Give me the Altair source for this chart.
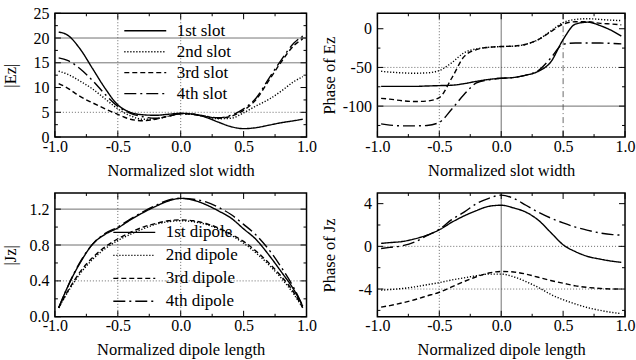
import altair as alt
import pandas as pd

FONT = "Liberation Serif"

# ---------------- data ----------------
X = [-0.97, -0.9, -0.8, -0.7, -0.6, -0.5, -0.4, -0.3, -0.2, -0.1, 0.0,
     0.1, 0.2, 0.3, 0.4, 0.5, 0.6, 0.7, 0.8, 0.9, 0.97]

SLOTS = ["1st slot", "2nd slot", "3rd slot", "4th slot"]
DIPOLES = ["1st dipole", "2nd dipole", "3rd dipole", "4th dipole"]

# |Ez| vs normalized slot width
EZ_MAG_1 = [21.2, 20.6, 17.8, 13.8, 9.8, 6.5, 5.0, 4.5, 4.4, 4.6, 4.8, 4.6, 4.0, 3.0, 2.1, 1.7, 1.9, 2.4, 2.9, 3.3, 3.6]
EZ_MAG_2 = [13.3, 12.7, 11.3, 9.7, 7.7, 5.7, 4.3, 3.6, 3.7, 4.2, 4.7, 4.6, 4.1, 3.7, 3.8, 4.9, 6.3, 7.6, 9.3, 11.2, 12.2]
EZ_MAG_3 = [10.8, 9.9, 8.2, 6.9, 5.7, 4.6, 3.6, 3.3, 3.6, 4.2, 4.7, 4.6, 4.2, 3.8, 4.2, 5.4, 7.6, 11.4, 15.2, 18.5, 19.8]
EZ_MAG_4 = [16.0, 15.5, 13.8, 11.4, 8.6, 6.2, 4.8, 4.1, 3.8, 4.2, 4.7, 4.6, 4.2, 3.9, 4.4, 5.7, 7.9, 11.8, 15.6, 19.0, 20.4]

# Phase of Ez vs normalized slot width
EZ_PH_1 = [-74.5, -74.5, -74.5, -74.5, -74.0, -73.5, -73.0, -71.0, -68.0, -65.5, -64.0, -63.0, -60.0, -55.0, -43.0, -14.0, 6.0, 8.5, 4.0, -3.0, -9.5]
EZ_PH_2 = [-55.0, -56.0, -57.0, -57.5, -57.0, -54.0, -44.0, -31.0, -26.0, -24.0, -23.0, -22.5, -20.0, -14.0, -3.0, 8.0, 12.0, 13.0, 12.0, 11.0, 10.5]
EZ_PH_3 = [-90.0, -91.0, -93.0, -94.0, -93.5, -89.0, -64.0, -36.0, -27.0, -24.0, -23.0, -22.5, -20.0, -14.0, -4.0, 6.0, 9.0, 9.0, 7.0, 6.0, 5.0]
EZ_PH_4 = [-123.0, -124.5, -125.5, -125.5, -125.0, -121.0, -104.0, -85.0, -70.0, -66.0, -64.0, -63.0, -60.0, -54.0, -38.0, -20.0, -18.5, -18.5, -18.5, -19.0, -19.5]

# |Jz| vs normalized dipole length
JZ_MAG_1 = [0.10, 0.33, 0.60, 0.81, 0.92, 0.99, 1.08, 1.16, 1.23, 1.29, 1.32, 1.30, 1.25, 1.18, 1.10, 0.98, 0.86, 0.69, 0.50, 0.30, 0.12]
JZ_MAG_2 = [0.10, 0.27, 0.48, 0.64, 0.76, 0.85, 0.92, 0.98, 1.03, 1.06, 1.07, 1.06, 1.03, 0.98, 0.91, 0.82, 0.71, 0.58, 0.43, 0.25, 0.10]
JZ_MAG_3 = [0.10, 0.28, 0.50, 0.66, 0.78, 0.87, 0.94, 1.00, 1.04, 1.07, 1.08, 1.07, 1.04, 0.99, 0.92, 0.84, 0.73, 0.60, 0.45, 0.27, 0.10]
JZ_MAG_4 = [0.10, 0.33, 0.61, 0.81, 0.93, 1.00, 1.09, 1.17, 1.24, 1.30, 1.32, 1.31, 1.28, 1.22, 1.14, 1.03, 0.91, 0.75, 0.55, 0.32, 0.12]

# Phase of Jz vs normalized dipole length
JZ_PH_1 = [0.28, 0.35, 0.45, 0.7, 1.05, 1.55, 2.25, 2.85, 3.35, 3.75, 3.85, 3.6, 3.2, 2.45, 1.3, 0.15, -0.5, -0.95, -1.2, -1.4, -1.5]
JZ_PH_2 = [-4.1, -4.05, -3.95, -3.8, -3.6, -3.4, -3.15, -2.95, -2.75, -2.6, -2.6, -2.85, -3.3, -3.85, -4.5, -5.0, -5.4, -5.75, -6.0, -6.2, -6.3]
JZ_PH_3 = [-5.7, -5.55, -5.3, -5.0, -4.65, -4.3, -3.8, -3.3, -2.85, -2.5, -2.35, -2.4, -2.6, -2.9, -3.2, -3.45, -3.7, -3.85, -3.95, -4.0, -4.0]
JZ_PH_4 = [-0.2, -0.1, 0.05, 0.4, 1.0, 1.6, 2.5, 3.2, 4.0, 4.5, 4.8, 4.5, 3.85, 3.2, 2.65, 2.2, 1.8, 1.5, 1.25, 1.1, 1.05]

X_MAJOR = [-1.0, -0.5, 0.0, 0.5, 1.0]
X_MINOR = [-0.75, -0.25, 0.25, 0.75]

DASHES = [[1, 0], [1.2, 1.8], [5, 3], [12, 4, 2, 4]]

W = 252
H = 124


def label_expr(fmt):
    return ("datum.value < 0 ? '-' + format(-datum.value, '%s') : format(datum.value, '%s')"
            % (fmt, fmt))


def panel(names, series, ydom, ymaj, ymin, ytitle, xtitle, yfmt, yext, ytpad,
          hsolid=(), hdot=(), vsolid=(), vdot=(), vdashdot=(), legend_xy=None,
          width=W, height=H):
    rows = []
    for name, vals in zip(names, series):
        for xv, yv in zip(X, vals):
            rows.append({"x": xv, "y": yv, "s": name})
    df = pd.DataFrame(rows)

    common = dict(ticks=False, domain=False, grid=False, labelFlush=False, labelOverlap=False,
                  labelFont=FONT, titleFont=FONT, labelColor="black", titleColor="black",
                  titleFontWeight="normal", labelFontSize=16, titleFontSize=16.5)
    xaxis = alt.Axis(values=X_MAJOR, labelExpr=label_expr(".1f"), labelPadding=1,
                     titlePadding=5, minExtent=20, maxExtent=20, **common)
    yaxis = alt.Axis(values=ymaj, labelExpr=label_expr(yfmt), labelPadding=6,
                     titlePadding=ytpad, minExtent=yext, maxExtent=yext, **common)
    xenc = alt.X("x:Q", scale=alt.Scale(domain=[-1, 1], nice=False, zero=False),
                 axis=xaxis, title=xtitle)
    yenc = alt.Y("y:Q", scale=alt.Scale(domain=ydom, nice=False, zero=False),
                 axis=yaxis, title=ytitle)

    layers = []

    def hrules(vals, dash):
        if vals:
            layers.append(alt.Chart(pd.DataFrame({"y": list(vals)})).mark_rule(
                color="#444", strokeWidth=0.8, strokeDash=dash).encode(y=yenc))

    def vrules(vals, dash):
        if vals:
            layers.append(alt.Chart(pd.DataFrame({"x": list(vals)})).mark_rule(
                color="#444", strokeWidth=0.8, strokeDash=dash).encode(x=xenc))

    hrules(hsolid, [1, 0])
    hrules(hdot, [1, 2])
    vrules(vsolid, [1, 0])
    vrules(vdot, [1, 2])
    vrules(vdashdot, [6, 3, 1, 3])

    # inward frame ticks
    for vals, ln in ((X_MAJOR, 6), (X_MINOR, 3)):
        d = pd.DataFrame({"x": vals})
        layers.append(alt.Chart(d).mark_rule(color="black", strokeWidth=1).encode(
            x=xenc, y=alt.value(height), y2=alt.value(height - ln)))
        layers.append(alt.Chart(d).mark_rule(color="black", strokeWidth=1).encode(
            x=xenc, y=alt.value(0), y2=alt.value(ln)))
    for vals, ln in ((ymaj, 6), (ymin, 3)):
        d = pd.DataFrame({"y": vals})
        layers.append(alt.Chart(d).mark_rule(color="black", strokeWidth=1).encode(
            y=yenc, x=alt.value(0), x2=alt.value(ln)))
        layers.append(alt.Chart(d).mark_rule(color="black", strokeWidth=1).encode(
            y=yenc, x=alt.value(width), x2=alt.value(width - ln)))

    if legend_xy is not None:
        leg = alt.Legend(orient="none", legendX=legend_xy[0], legendY=legend_xy[1], title=None,
                         symbolType="M-2,0H2", symbolSize=441, symbolStrokeWidth=1.4,
                         symbolStrokeColor="black", symbolFillColor="transparent",
                         labelFontSize=17, labelFont=FONT,
                         labelColor="black", labelOffset=20, rowPadding=legend_xy[2],
                         padding=0)
    else:
        leg = None
    lines = alt.Chart(df).mark_line(color="black", strokeWidth=1.4, interpolate="monotone",
                                    clip=True).encode(
        x=xenc, y=yenc,
        strokeDash=alt.StrokeDash("s:N", scale=alt.Scale(domain=names, range=DASHES),
                                  sort=names, legend=leg),
        detail="s:N")
    layers.append(lines)
    return alt.layer(*layers).properties(width=width, height=height)


p1 = panel(SLOTS, [EZ_MAG_1, EZ_MAG_2, EZ_MAG_3, EZ_MAG_4], [0, 25],
           [0, 5, 10, 15, 20, 25], [2.5, 7.5, 12.5, 17.5, 22.5],
           "|Ez|", "Normalized slot width", "d", 30, 6,
           hsolid=[15, 20], hdot=[5], vdot=[-0.5, 0.0], legend_xy=[79, 6, 1])
p2 = panel(SLOTS, [EZ_PH_1, EZ_PH_2, EZ_PH_3, EZ_PH_4], [-140, 20],
           [-100, -50, 0], [-125, -75, -25],
           "Phase of Ez", "Normalized slot width", "d", 34, 6,
           hsolid=[-100], hdot=[-50], vdot=[-0.5], vsolid=[0.0], vdashdot=[0.5], width=248)
p3 = panel(DIPOLES, [JZ_MAG_1, JZ_MAG_2, JZ_MAG_3, JZ_MAG_4], [0, 1.38],
           [0.0, 0.4, 0.8, 1.2], [0.2, 0.6, 1.0],
           "|Jz|", "Normalized dipole length", ".1f", 30, 6,
           hsolid=[1.2, 0.8], hdot=[0.4], vdot=[-0.5, 0.0], legend_xy=[68, 28, 3])
p4 = panel(DIPOLES, [JZ_PH_1, JZ_PH_2, JZ_PH_3, JZ_PH_4], [-6.6, 5],
           [-4, 0, 4], [-6, -2, 2],
           "Phase of Jz", "Normalized dipole length", "d", 34, 6,
           hdot=[0, -4], vdot=[-0.5], vsolid=[0.0], width=248)

row1 = alt.hconcat(p1, p2, spacing=3).resolve_scale(
    strokeDash="independent", x="independent", y="independent").resolve_legend(
    strokeDash="independent")
row2 = alt.hconcat(p3, p4, spacing=3).resolve_scale(
    strokeDash="independent", x="independent", y="independent").resolve_legend(
    strokeDash="independent")

chart = alt.vconcat(row1, row2, spacing=11).resolve_scale(
    strokeDash="independent", x="independent", y="independent").resolve_legend(
    strokeDash="independent").properties(
    padding={"left": 2, "top": 4, "right": 0, "bottom": 0},
    background="white",
).configure_view(
    stroke="black", strokeWidth=1.5
).configure_axis(
    labelFont=FONT, titleFont=FONT, labelColor="black", titleColor="black",
    titleFontWeight="normal"
).configure_text(font=FONT)

chart.save("out.html", embed_options={"renderer": "svg", "actions": False})
